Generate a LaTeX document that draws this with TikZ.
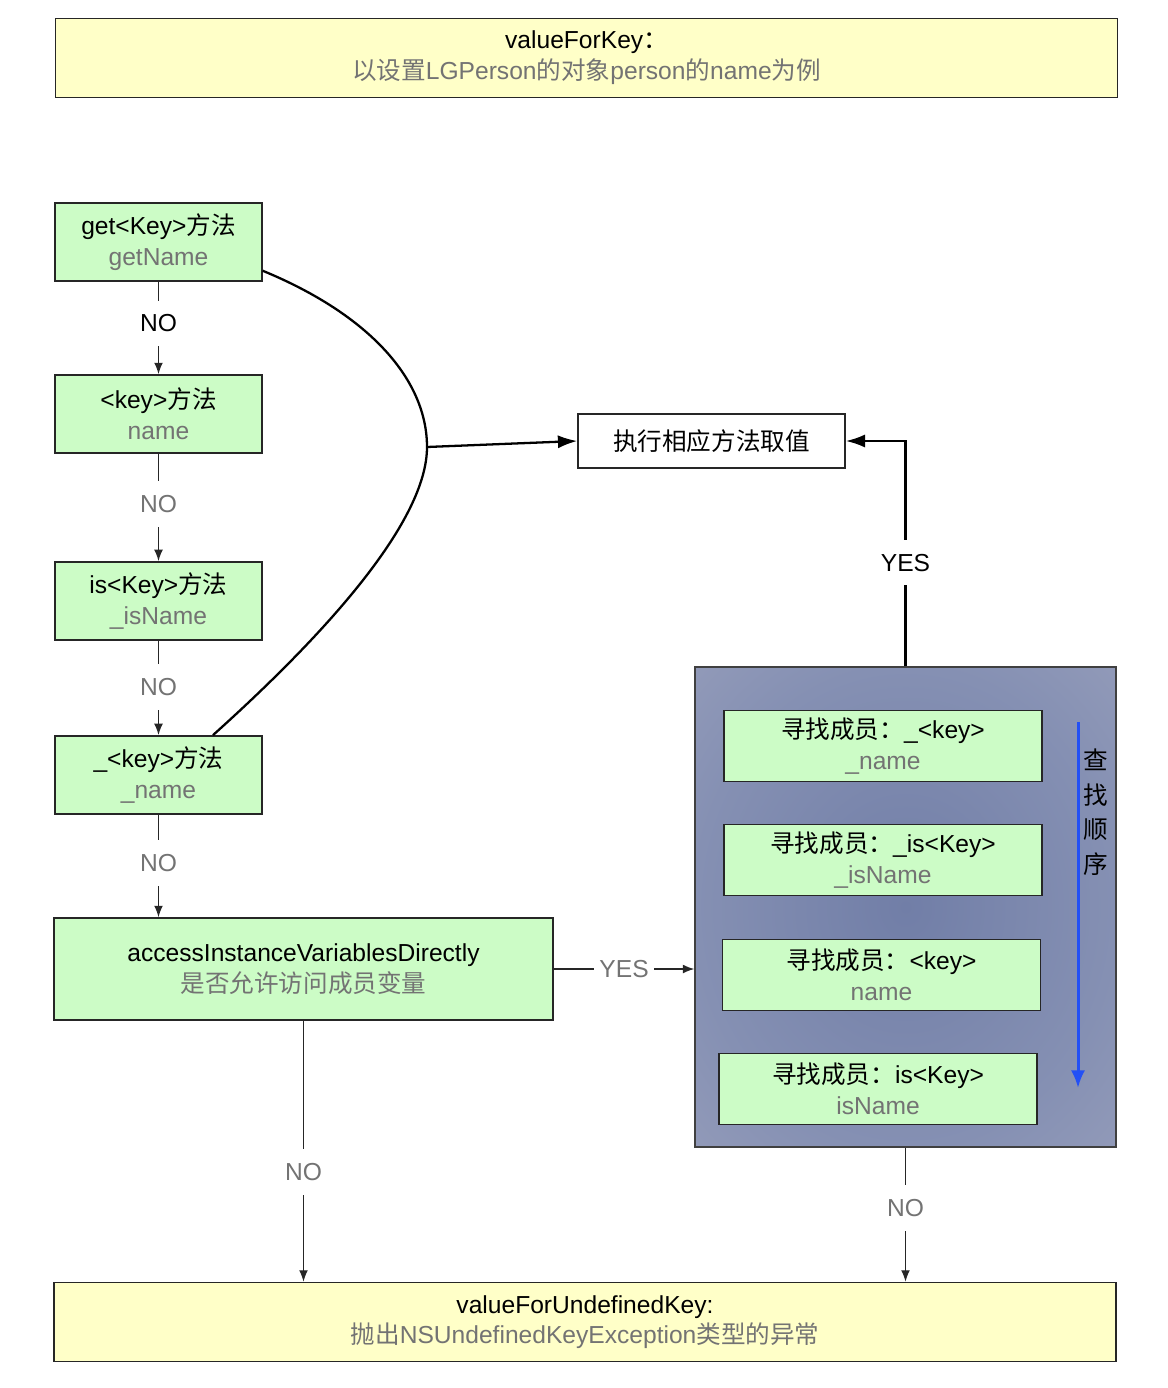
\documentclass[tikz,border=0pt]{standalone}
\usepackage{fontspec}
\setmainfont{Liberation Sans}
\newfontfamily\cjkfont{Noto Sans CJK SC}
\newcommand{\zh}[1]{{\cjkfont #1}}
\usepackage{tikz}
\usetikzlibrary{positioning, arrows.meta, calc}
\definecolor{methodgreen}{HTML}{CCFCC6}
\definecolor{notepale}{HTML}{FFFFC8}
\definecolor{subgray}{HTML}{737373}
\definecolor{ordblue}{HTML}{2350F5}
\definecolor{panelmid}{HTML}{717EA7}
\definecolor{panelinner}{HTML}{8590B3}
\definecolor{paneledge}{HTML}{A2A7C0}
\definecolor{panelcorner}{HTML}{D0D1DA}
\pgfdeclareradialshading{panelshade}{\pgfpoint{0bp}{0bp}}{color(0bp)=(panelmid); color(25bp)=(panelinner); color(50bp)=(paneledge); color(72bp)=(panelcorner)}

\begin{document}
\begin{tikzpicture}
	[x=0.02cm, y=-0.02cm, on grid,
	 method/.style={draw=black!85, line width=0.9pt, fill=methodgreen, inner sep=0pt,
	   minimum width=4.14cm, minimum height=1.56cm, align=center,
	   font=\fontsize{14}{17.5}\selectfont},
	 member/.style={method, minimum width=6.36cm, minimum height=1.42cm},
	 note/.style={method, fill=notepale, minimum width=21.24cm, minimum height=1.58cm},
	 cond/.style={fill=white, inner xsep=3pt, inner ysep=8pt, font=\fontsize{14}{16}\selectfont},
	 thinlink/.style={-{Latex[length=6.5pt,width=5pt]}, line width=0.75pt,
	   every edge/.append style={draw=black!85}},
	 boldlink/.style={draw=black, line width=1.3pt}]
   \useasboundingbox (0,0) rectangle (1168,1388);
   \node[note] (fortop) at (586.5,58) {valueForKey\zh{：}\\\textcolor{subgray}{\zh{以设置}LGPerson\zh{的对象}person\zh{的}name\zh{为例}}};
   \node[method] (getkey) at (158.5,242) {get<Key>\zh{方法}\\\textcolor{subgray}{getName}};
   \node[method] (keym) [below=3.44cm of getkey] {<key>\zh{方法}\\\textcolor{subgray}{name}};
   \node[method] (iskey) [below=3.74cm of keym] {is<Key>\zh{方法}\\\textcolor{subgray}{\_isName}};
   \node[method] (ukey) [below=3.48cm of iskey] {\_<key>\zh{方法}\\\textcolor{subgray}{\_name}};
   \node[method, minimum width=9.98cm, minimum height=2.04cm] (access) at (303.5,969) {accessInstanceVariablesDirectly\\\textcolor{subgray}{\zh{是否允许访问成员变量}}};
   \node[draw=black!85, line width=0.9pt, minimum width=5.34cm, minimum height=1.08cm, font=\fontsize{14}{18}\selectfont] (exec) at (711.5,441) {\zh{执行相应方法取值}};
   \node[draw=black!75, line width=0.8pt, shade, shading=panelshade, minimum width=8.42cm, minimum height=9.6cm] (panel) at (905.5,907) {};
   \node[member] (m1) at (883,746) {\zh{寻找成员：}\_<key>\\\textcolor{subgray}{\_name}};
   \node[member] (m2) at (883,860) {\zh{寻找成员：}\_is<Key>\\\textcolor{subgray}{\_isName}};
   \node[member] (m3) at (881.5,975) {\zh{寻找成员：}<key>\\\textcolor{subgray}{name}};
   \node[member] (m4) at (878,1089) {\zh{寻找成员：}is<Key>\\\textcolor{subgray}{isName}};
   \node[align=center, font=\cjkfont\fontsize{14}{19.7}\selectfont] (order) at (1096,812) {查\\找\\顺\\序};
   \node[note] (undef) at (585,1322) {valueForUndefinedKey:\\\textcolor{subgray}{\zh{抛出}NSUndefinedKeyException\zh{类型的异常}}};
   \coordinate (join) at (427,447);
   \coordinate (ordtop) at (1078,722);
   \coordinate (ordend) at (1078,1088);
    \path[thinlink]
    (getkey) edge node[cond, pos=0.45] {NO} (keym)
    (keym) edge node[cond, pos=0.47, text=subgray] {NO} (iskey)
    (iskey) edge node[cond, pos=0.49, text=subgray] {NO} (ukey)
    (ukey.south) edge node[cond, pos=0.47, text=subgray] {NO} (ukey.south |- access.north)
    (access.east) edge node[cond, text=subgray] {YES} (access.east -| panel.west)
    (access.south) edge node[cond, pos=0.58, text=subgray] {NO} (access.south |- undef.north)
    (panel.south) edge node[cond, pos=0.45, text=subgray] {NO} (panel.south |- undef.north);
    \draw[boldlink] ($(getkey.south east)+(0,-11)$) .. controls (370,315) and (427,380) .. (join)
          .. controls (427,520) and (330,630) .. ($(ukey.north)+(54.5,0)$);
    \draw[boldlink, -{Latex[length=11pt,width=7.5pt]}] (join) -- (exec.west);
    \draw[boldlink, -{Latex[length=11pt,width=7.5pt]}] (panel.north) |- node[cond, pos=0.23] {YES} (exec.east);
    \draw[ordblue, line width=1.7pt, -{Latex[length=10pt,width=8pt]}] (ordtop) -- (ordend);
\end{tikzpicture}
\end{document}
